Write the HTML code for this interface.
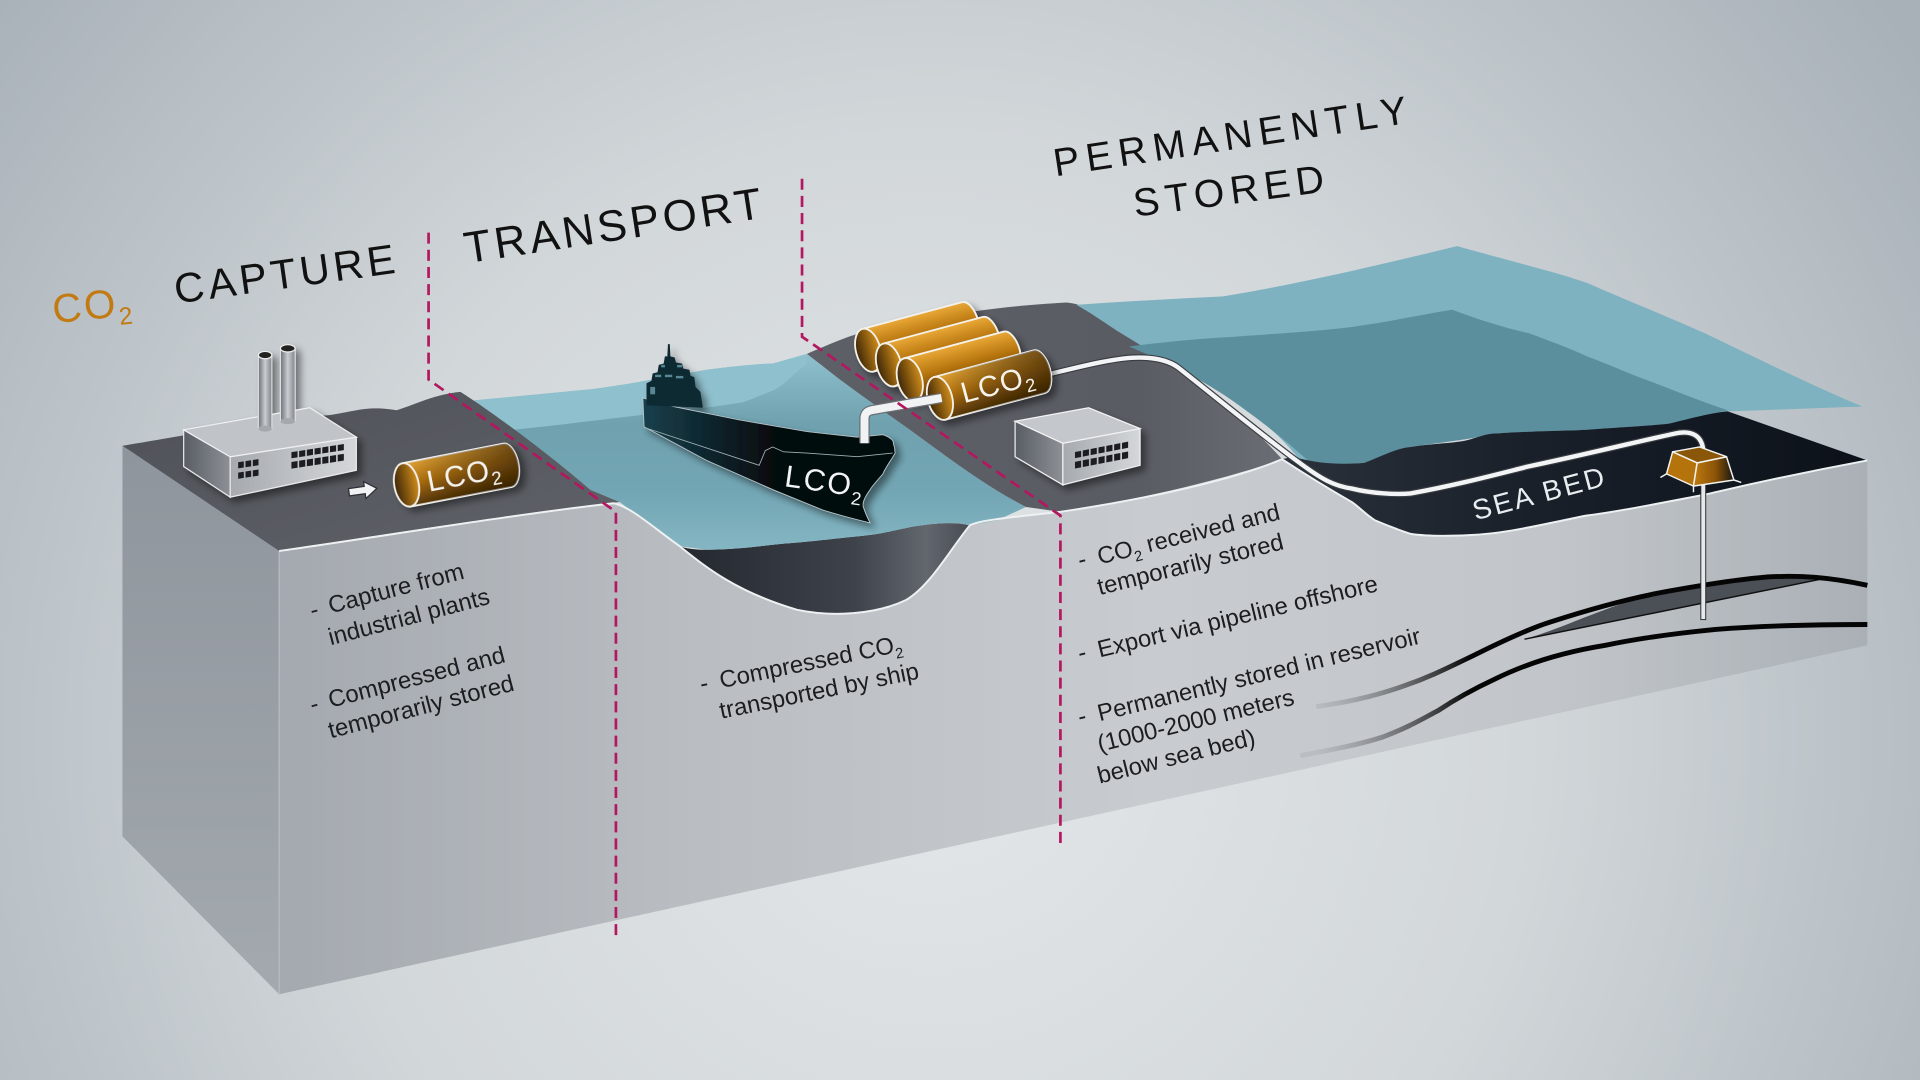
<!DOCTYPE html>
<html><head><meta charset="utf-8"><style>
html,body{margin:0;padding:0;width:1920px;height:1080px;overflow:hidden;background:#cfd5d9}
svg{display:block}
text{font-family:"Liberation Sans",sans-serif}
</style></head><body>
<svg width="1920" height="1080" viewBox="0 0 1568 882" xmlns="http://www.w3.org/2000/svg">
<defs>
<radialGradient id="bg" cx="760" cy="600" r="980" gradientUnits="userSpaceOnUse">
 <stop offset="0" stop-color="#e4e7e9"/>
 <stop offset="0.5" stop-color="#d2d7da"/>
 <stop offset="1" stop-color="#a8b1b8"/>
</radialGradient>
<linearGradient id="lf" x1="0" y1="0" x2="0" y2="1">
 <stop offset="0" stop-color="#8e959c"/><stop offset="1" stop-color="#a3a9ae"/>
</linearGradient>
<linearGradient id="ff" x1="228" y1="0" x2="1525" y2="0" gradientUnits="userSpaceOnUse">
 <stop offset="0" stop-color="#a4a9af"/><stop offset="0.25" stop-color="#b9bdc2"/>
 <stop offset="0.55" stop-color="#c8ccd0"/><stop offset="0.8" stop-color="#c2c6ca"/><stop offset="1" stop-color="#aab0b6"/>
</linearGradient>
<linearGradient id="land" x1="0" y1="0" x2="1" y2="1">
 <stop offset="0" stop-color="#4e5157"/><stop offset="1" stop-color="#5f6268"/>
</linearGradient>
<linearGradient id="hill" x1="0" y1="0" x2="1" y2="0">
 <stop offset="0" stop-color="#5d6067"/><stop offset="0.7" stop-color="#595c63"/><stop offset="1" stop-color="#6a6d74"/>
</linearGradient>
<linearGradient id="chan" x1="555" y1="0" x2="792" y2="0" gradientUnits="userSpaceOnUse">
 <stop offset="0" stop-color="#23272e"/><stop offset="0.6" stop-color="#3e424a"/><stop offset="0.85" stop-color="#62666d"/><stop offset="1" stop-color="#484c53"/>
</linearGradient>
<linearGradient id="wat" x1="0" y1="290" x2="0" y2="450" gradientUnits="userSpaceOnUse">
 <stop offset="0" stop-color="#8ebfcc"/><stop offset="0.35" stop-color="#6fa1af"/><stop offset="0.7" stop-color="#73a6b4"/><stop offset="1" stop-color="#84b6c3"/>
</linearGradient>
<linearGradient id="navy" x1="1047" y1="0" x2="1525" y2="0" gradientUnits="userSpaceOnUse">
 <stop offset="0" stop-color="#2a313b"/><stop offset="0.4" stop-color="#1a212b"/><stop offset="1" stop-color="#0c1119"/>
</linearGradient>
<linearGradient id="tank" x1="0" y1="-18" x2="0" y2="18" gradientUnits="userSpaceOnUse">
 <stop offset="0" stop-color="#e9a836"/><stop offset="0.45" stop-color="#b97710"/><stop offset="1" stop-color="#5a3906"/>
</linearGradient>
<linearGradient id="tankR" x1="0" y1="0" x2="90" y2="0" gradientUnits="userSpaceOnUse">
 <stop offset="0" stop-color="#000" stop-opacity="0"/><stop offset="1" stop-color="#1a0e00" stop-opacity="0.55"/>
</linearGradient>
<linearGradient id="tankIn" x1="-10" y1="0" x2="10" y2="0" gradientUnits="userSpaceOnUse">
 <stop offset="0" stop-color="#3d2604"/><stop offset="1" stop-color="#d18d1c"/>
</linearGradient>
<linearGradient id="hull" x1="525" y1="0" x2="640" y2="0" gradientUnits="userSpaceOnUse">
 <stop offset="0" stop-color="#17404c"/><stop offset="1" stop-color="#050709"/>
</linearGradient>
<linearGradient id="chim" x1="0" y1="0" x2="1" y2="0">
 <stop offset="0" stop-color="#6c7178"/><stop offset="0.5" stop-color="#c9ccd0"/><stop offset="1" stop-color="#80858b"/>
</linearGradient>
<linearGradient id="bfront" x1="0" y1="0" x2="1" y2="0">
 <stop offset="0" stop-color="#a6aaaf"/><stop offset="1" stop-color="#d4d7da"/>
</linearGradient>
<linearGradient id="bleft" x1="0" y1="0" x2="1" y2="0">
 <stop offset="0" stop-color="#595d64"/><stop offset="1" stop-color="#8d9197"/>
</linearGradient>
<linearGradient id="well" x1="0" y1="0" x2="1" y2="0">
 <stop offset="0" stop-color="#c07a10"/><stop offset="0.55" stop-color="#8a5306"/><stop offset="1" stop-color="#151515"/>
</linearGradient>
<linearGradient id="res1" x1="1075" y1="0" x2="1200" y2="0" gradientUnits="userSpaceOnUse">
 <stop offset="0" stop-color="#9da1a6" stop-opacity="0.3"/><stop offset="1" stop-color="#050505"/>
</linearGradient>
<filter id="sh" x="-30%" y="-30%" width="160%" height="160%">
 <feDropShadow dx="4" dy="4" stdDeviation="3" flood-color="#000" flood-opacity="0.45"/>
</filter>
</defs>

<rect width="1568" height="882" fill="url(#bg)"/>

<polygon points="100,364 228,450 228,812 100,683" fill="url(#lf)"/>
<path d="M228,450 C300,440 420,420 501,411 C515,414 530,428 555,446 C575,462 600,483 651,498 C680,504 715,502 740,490 C760,478 775,450 792,429 C800,425 820,423 866,418 C920,410 1000,395 1047,375 C1070,390 1090,402 1104,410 C1110,414 1115,420 1123,425 C1130,428 1140,432 1152,436 C1165,438 1180,438 1200,437 C1230,436 1260,428 1296,421 C1320,418 1350,412 1392,404 C1410,400 1450,390 1525,376 L1525,527 L228,812 Z" fill="url(#ff)"/>
<line x1="228" y1="450" x2="228" y2="812" stroke="#b8bdc2" stroke-width="1"/>

<path d="M555,446 C575,462 600,483 651,498 C680,504 715,502 740,490 C760,478 775,450 792,429 C780,426 765,427 746,430 C730,433 722,436 700,438 C680,440 665,442 640,444 C620,446 600,449 577,449 C568,449 560,448 555,446 Z" fill="url(#chan)"/>

<path d="M387,327 C420,324 460,320 482,318 C520,313 560,305 577,302 C600,299 620,297 631,297 L659,289 C670,298 680,305 686,310 C710,328 735,345 754,359 C780,378 810,400 838,414 L814,425 L792,429 C780,426 765,427 746,430 C730,433 722,436 700,438 C680,440 665,442 640,444 C620,446 600,449 577,449 L555,446 C540,436 525,424 506,410 L482,400 C460,385 420,352 387,327 Z" fill="url(#wat)"/>
<path d="M387,327 C420,324 460,320 482,318 C520,313 560,305 577,302 C600,299 620,297 631,297 L659,289 L659,297 C645,308 640,315 631,319 C615,325 610,328 604,329 C570,334 545,337 523,339 C480,344 450,348 419,351 C405,342 395,334 387,327 Z" fill="#8fc0cd"/>

<path d="M100,364 C150,356 220,342 269,339 C290,336 300,331 324,335 C340,330 355,322 376,320 C400,335 450,372 482,400 L506,410 C420,420 300,438 228,450 Z" fill="url(#land)"/>

<path d="M659,289 C680,280 700,271 720,268 C760,260 800,251 871,247 C880,248 885,250 890,253 C920,275 950,293 960,299 C985,315 1020,345 1047,375 C1000,392 920,410 866,418 L838,414 C810,400 780,378 754,359 C735,345 710,328 686,310 Z" fill="url(#hill)"/>

<path d="M879,249 C920,246 960,244 999,242 C1060,232 1120,218 1190,201 C1240,215 1270,222 1296,231 C1340,250 1370,262 1392,272 C1440,295 1480,315 1521,332 L1411,336 C1398,337 1380,342 1363,346 C1345,348 1320,349 1296,351 C1280,352 1250,352 1222,354 C1200,359 1170,362 1152,365 C1140,366 1130,372 1114,378 C1100,379 1080,380 1062,376 C1050,362 1040,350 1008,327 C985,312 970,305 960,299 C940,287 925,278 912,270 C900,262 890,255 879,249 Z" fill="#7fb2c0"/>
<path d="M922,283 C960,278 990,276 1008,275 C1050,272 1080,270 1104,267 C1140,262 1160,257 1186,253 C1210,262 1230,268 1248,272 C1270,280 1285,286 1296,291 C1320,300 1330,305 1344,310 C1370,320 1395,330 1411,335 L1363,346 C1345,348 1320,349 1296,351 C1280,352 1250,352 1222,354 C1200,359 1170,362 1152,365 C1140,366 1130,372 1114,378 C1100,379 1085,380 1068,376 C1050,360 1035,348 1020,337 C1000,322 975,305 922,283 Z" fill="#5c8f9d"/>

<path d="M1056,373 C1080,380 1100,379 1114,378 C1130,372 1140,366 1152,365 C1170,362 1190,362 1200,359 C1210,356 1215,354 1222,354 C1250,352 1280,352 1296,351 C1320,349 1345,348 1363,346 C1380,342 1398,337 1411,336 L1525,376 C1450,390 1410,400 1392,404 C1350,412 1320,418 1296,421 C1260,428 1230,436 1200,437 C1180,438 1165,438 1152,436 C1140,432 1130,428 1123,425 C1115,420 1110,414 1104,410 C1090,402 1070,390 1047,375 Z" fill="url(#navy)"/>

<path d="M228,450 C300,440 420,420 501,411 C515,414 530,428 555,446 C575,462 600,483 651,498 C680,504 715,502 740,490 C760,478 775,450 792,429 C800,425 820,423 866,418 C920,410 1000,395 1047,375 C1070,390 1090,402 1104,410 C1110,414 1115,420 1123,425 C1130,428 1140,432 1152,436 C1165,438 1180,438 1200,437 C1230,436 1260,428 1296,421 C1320,418 1350,412 1392,404 C1410,400 1450,390 1525,376" fill="none" stroke="#eef1f2" stroke-width="1.6"/>

<path d="M1245,522 C1280,512 1310,495 1356,484 C1400,476 1430,472 1447,471 C1465,470 1478,471 1487,473 Z" fill="#4b5056"/>
<path d="M1245,522 L1487,473" stroke="#111" stroke-width="1.2"/>
<path d="M1075,577 C1110,572 1130,566 1147,560 C1170,552 1185,544 1202,536 C1230,522 1250,513 1266,508 C1300,497 1330,489 1356,484 C1400,476 1430,472 1447,471 C1470,470 1492,471 1525,478" fill="none" stroke="url(#res1)" stroke-width="4"/>
<path d="M1062,617 C1090,612 1110,608 1129,602 C1150,594 1160,588 1175,580 C1190,570 1205,562 1220,555 C1250,540 1280,532 1311,527 C1340,521 1370,517 1401,514 C1440,511 1480,510 1525,510" fill="none" stroke="url(#res1)" stroke-width="4"/>

<path d="M855,306 C880,300 910,292 930,292 C945,292 955,295 962,300 C985,318 1030,355 1060,377 C1080,392 1090,397 1104,399 C1120,403 1140,404 1152,403 C1190,396 1220,388 1248,381 C1300,370 1340,360 1368,354 C1382,351 1390,356 1391,368" fill="none" stroke="#3a3d42" stroke-width="5.5"/>
<path d="M855,306 C880,300 910,292 930,292 C945,292 955,295 962,300 C985,318 1030,355 1060,377 C1080,392 1090,397 1104,399 C1120,403 1140,404 1152,403 C1190,396 1220,388 1248,381 C1300,370 1340,360 1368,354 C1382,351 1390,356 1391,368" fill="none" stroke="#f2f4f5" stroke-width="3.6"/>

<rect x="1389" y="390" width="4" height="116" fill="#e6e9eb" stroke="#2a2d31" stroke-width="0.8"/>
<g stroke="#f3f3f0" stroke-width="1.2" stroke-linejoin="round">
 <polygon points="1366,369 1361,387 1383,397 1386,378" fill="#b5730c"/>
 <polygon points="1386,378 1383,397 1416,392 1410,373" fill="url(#well)"/>
 <polygon points="1366,369 1388,365 1410,373 1386,378" fill="#8a5608"/>
 <line x1="1361" y1="387" x2="1356" y2="390"/>
 <line x1="1416" y1="392" x2="1422" y2="394"/>
 <line x1="1383" y1="397" x2="1383" y2="402"/>
</g>

<text x="1205" y="425" font-size="23" fill="#e9edf0" letter-spacing="2" transform="rotate(-15 1205 425)">SEA BED</text>

<g filter="url(#sh)">
 <polygon points="150,351 188,373 188,406 150,381" fill="url(#bleft)" stroke="#e8eaec" stroke-width="1"/>
 <polygon points="188,373 291,357 291,384 188,406" fill="url(#bfront)" stroke="#e8eaec" stroke-width="1"/>
 <polygon points="150,351 253,333 291,357 188,373" fill="#c0c3c7" stroke="#eef0f1" stroke-width="1"/>
 <rect x="211" y="290" width="11" height="60" fill="url(#chim)" stroke="#e8eaec" stroke-width="0.8"/>
 <ellipse cx="216.5" cy="350" rx="5.5" ry="2.5" fill="#a5a9ae"/>
 <ellipse cx="216.5" cy="290" rx="5.5" ry="3" fill="#222" stroke="#eee" stroke-width="1"/>
 <rect x="229" y="284.5" width="12" height="59.5" fill="url(#chim)" stroke="#e8eaec" stroke-width="0.8"/>
 <ellipse cx="235" cy="344" rx="6" ry="2.5" fill="#a5a9ae"/>
 <ellipse cx="235" cy="284.5" rx="6" ry="3" fill="#222" stroke="#eee" stroke-width="1"/>
 <g transform="matrix(1,-0.155,0,1,188,373)" fill="#1b1d20">
  <rect x="6.5" y="5.5" width="4.6" height="5"/><rect x="12.5" y="5.5" width="4.6" height="5"/><rect x="18.5" y="5.5" width="4.6" height="5"/>
  <rect x="6.5" y="14" width="4.6" height="5"/><rect x="12.5" y="14" width="4.6" height="5"/><rect x="18.5" y="14" width="4.6" height="5"/>
  <rect x="50" y="4" width="5" height="5"/><rect x="56.3" y="4" width="5" height="5"/><rect x="62.6" y="4" width="5" height="5"/><rect x="68.9" y="4" width="5" height="5"/><rect x="75.2" y="4" width="5" height="5"/><rect x="81.5" y="4" width="5" height="5"/><rect x="87.8" y="4" width="5" height="5"/>
  <rect x="50" y="12" width="5" height="5.5"/><rect x="56.3" y="12" width="5" height="5.5"/><rect x="62.6" y="12" width="5" height="5.5"/><rect x="68.9" y="12" width="5" height="5.5"/><rect x="75.2" y="12" width="5" height="5.5"/><rect x="81.5" y="12" width="5" height="5.5"/><rect x="87.8" y="12" width="5" height="5.5"/>
 </g>
</g>
<path d="M0,-3 L13,-3 L13,-7 L23,0 L13,7 L13,3 L0,3 Z" transform="translate(285,402) rotate(-8)" fill="#f0f2f3" stroke="#2b2e33" stroke-width="1"/>

<g transform="translate(332,396) rotate(-11)" filter="url(#sh)">
 <path d="M0,-18 L84,-18 A9,18 0 0 1 84,18 L0,18 Z" fill="url(#tank)" stroke="#f4f1ea" stroke-width="1.5"/>
 <path d="M0,-18 L84,-18 A9,18 0 0 1 84,18 L0,18 Z" fill="url(#tankR)"/>
 <ellipse cx="0" cy="0" rx="10" ry="18" fill="url(#tankIn)" stroke="#f4f1ea" stroke-width="1.5"/>
 <text x="17" y="9" font-size="24" fill="#f6f3ec" letter-spacing="1">LCO<tspan font-size="15" dy="5">2</tspan></text>
</g>

<g filter="url(#sh)">
 <path d="M525,325 L550,332 L604,343 L659,352.5 L700,357 L721,355 C727,357 730,360 729.5,362 C731,366 731,368 731,370 C727,377 723,382 721,387 C716,393 712,397 710.5,400 C707,405 704,410 705,414 C707,420 709,424 710.5,427 C690,422 680,419 672,416.5 L631.5,400 L577,376 L526,348.5 Z" fill="url(#hull)" stroke="#b9c6cb" stroke-width="0.7"/>
 <path d="M528,331 L528,313 L532,311 L533,305 L537,304 L538,298 L542,297 L543,291 L545,291 L545.5,281 L547,281 L547.5,291 L551,292 L552,296 L557,297 L558,301 L563,302 L564,307 L567,308 L568,316 L572,320 L574,333 Z" fill="#0f2a33"/>
 <g fill="#6fa6b4" opacity="0.75">
  <rect x="535" y="306" width="5" height="2"/><rect x="543" y="306" width="6" height="2"/><rect x="552" y="307" width="6" height="2"/>
  <rect x="531" y="316" width="4" height="6"/><rect x="540" y="298" width="3" height="2"/><rect x="553" y="298" width="4" height="2"/>
 </g>
 <polyline points="526,349 620,380 625,368 631,365 640,369 659,370 700,373 729,370" fill="none" stroke="#9fb0b6" stroke-width="0.7"/>
 <text x="640" y="397" font-size="25" fill="#f2f4f5" letter-spacing="1.5" transform="rotate(8 640 397)">LCO<tspan font-size="15" dy="7">2</tspan></text>
</g>

<g filter="url(#sh)">
 <g transform="translate(709,286) rotate(-15)">
  <path d="M0,-18 L84,-18 A9,18 0 0 1 84,18 L0,18 Z" fill="url(#tank)" stroke="#f4f1ea" stroke-width="1.5"/>
  <ellipse cx="0" cy="0" rx="10" ry="18" fill="url(#tankIn)" stroke="#f4f1ea" stroke-width="1.5"/>
 </g>
 <g transform="translate(726,298) rotate(-15)">
  <path d="M0,-18 L84,-18 A9,18 0 0 1 84,18 L0,18 Z" fill="url(#tank)" stroke="#f4f1ea" stroke-width="1.5"/>
  <ellipse cx="0" cy="0" rx="10" ry="18" fill="url(#tankIn)" stroke="#f4f1ea" stroke-width="1.5"/>
 </g>
 <g transform="translate(743,310) rotate(-15)">
  <path d="M0,-18 L84,-18 A9,18 0 0 1 84,18 L0,18 Z" fill="url(#tank)" stroke="#f4f1ea" stroke-width="1.5"/>
  <ellipse cx="0" cy="0" rx="10" ry="18" fill="url(#tankIn)" stroke="#f4f1ea" stroke-width="1.5"/>
 </g>
 <g transform="translate(767.6,325.3) rotate(-15)">
  <path d="M0,-18 L84,-18 A9,18 0 0 1 84,18 L0,18 Z" fill="url(#tank)" stroke="#f4f1ea" stroke-width="1.5"/>
  <path d="M0,-18 L84,-18 A9,18 0 0 1 84,18 L0,18 Z" fill="url(#tankR)"/>
  <ellipse cx="0" cy="0" rx="10" ry="18" fill="url(#tankIn)" stroke="#f4f1ea" stroke-width="1.5"/>
  <text x="18" y="9" font-size="24" fill="#f6f3ec" letter-spacing="1">LCO<tspan font-size="15" dy="5">2</tspan></text>
 </g>
</g>
<path d="M769,325 L712,335 Q706,336 706,342 L706,362" fill="none" stroke="#6b6f75" stroke-width="8.5"/>
<path d="M769,325 L712,335 Q706,336 706,342 L706,362" fill="none" stroke="#f0f2f3" stroke-width="6.5"/>

<g filter="url(#sh)">
 <polygon points="829,344 868,362 868,396 829,373" fill="url(#bleft)" stroke="#eef0f1" stroke-width="1"/>
 <polygon points="868,362 931,350 931,380 868,396" fill="url(#bfront)" stroke="#eef0f1" stroke-width="1"/>
 <polygon points="829,344 889,333 931,350 868,362" fill="#c4c7cb" stroke="#f2f3f4" stroke-width="1"/>
 <g transform="matrix(1,-0.195,0,1,868.4,362)" fill="#1b1d20">
  <rect x="9.5" y="9" width="5" height="5"/><rect x="15.9" y="9" width="5" height="5"/><rect x="22.3" y="9" width="5" height="5"/><rect x="28.7" y="9" width="5" height="5"/><rect x="35.1" y="9" width="5" height="5"/><rect x="41.5" y="9" width="5" height="5"/><rect x="47.9" y="9" width="5" height="5"/>
  <rect x="9.5" y="17" width="5" height="5.5"/><rect x="15.9" y="17" width="5" height="5.5"/><rect x="22.3" y="17" width="5" height="5.5"/><rect x="28.7" y="17" width="5" height="5.5"/><rect x="35.1" y="17" width="5" height="5.5"/><rect x="41.5" y="17" width="5" height="5.5"/><rect x="47.9" y="17" width="5" height="5.5"/>
 </g>
</g>

<g fill="none" stroke="#b3175f" stroke-width="2.2" stroke-dasharray="9 5">
 <path d="M350,190 L350,310 L503,418 L503,767"/>
 <path d="M655,146 L655,275 L866,421 L866,689"/>
</g>

<text x="44" y="264" font-size="33" fill="#c27a12" letter-spacing="2" transform="rotate(-6 44 264)">CO<tspan font-size="20" dy="7">2</tspan></text>
<text x="144" y="248" font-size="34" fill="#111" letter-spacing="3.2" transform="rotate(-8 144 248)">CAPTURE</text>
<text x="381" y="215" font-size="36" fill="#111" letter-spacing="3" transform="rotate(-8.7 381 215)">TRANSPORT</text>
<text x="862" y="144" font-size="32" fill="#111" letter-spacing="5.4" transform="rotate(-8.6 862 144)">PERMANENTLY</text>
<text x="927" y="177" font-size="32" fill="#111" letter-spacing="4.8" transform="rotate(-7.5 927 177)">STORED</text>

<g font-size="19.5" fill="#1c1d1f">
 <text x="255" y="505" transform="rotate(-14.6 255 505)">-</text>
 <text x="270" y="501" transform="rotate(-14.6 270 501)">Capture from</text>
 <text x="270" y="527" transform="rotate(-14.6 270 527)">industrial plants</text>
 <text x="255" y="582" transform="rotate(-14.6 255 582)">-</text>
 <text x="270" y="578" transform="rotate(-14.6 270 578)">Compressed and</text>
 <text x="270" y="603" transform="rotate(-14.6 270 603)">temporarily stored</text>

 <text x="573" y="565" transform="rotate(-11.5 573 565)">-</text>
 <text x="589" y="562" transform="rotate(-11.5 589 562)">Compressed CO<tspan font-size="12" dy="5">2</tspan></text>
 <text x="589" y="587" transform="rotate(-11.5 589 587)">transported by ship</text>

 <text x="882" y="464" transform="rotate(-14 882 464)">-</text>
 <text x="898" y="461" transform="rotate(-14 898 461)">CO<tspan font-size="12" dy="5">2</tspan><tspan dy="-5"> received and</tspan></text>
 <text x="898" y="486" transform="rotate(-14 898 486)">temporarily stored</text>
 <text x="882" y="540" transform="rotate(-14 882 540)">-</text>
 <text x="898" y="537" transform="rotate(-13.4 898 537)">Export via pipeline offshore</text>
 <text x="882" y="592" transform="rotate(-14 882 592)">-</text>
 <text x="898" y="589" transform="rotate(-13.6 898 589)">Permanently stored in reservoir</text>
 <text x="898" y="614" transform="rotate(-13.6 898 614)">(1000-2000 meters</text>
 <text x="898" y="640" transform="rotate(-14 898 640)">below sea bed)</text>
</g>
</svg>
</body></html>
